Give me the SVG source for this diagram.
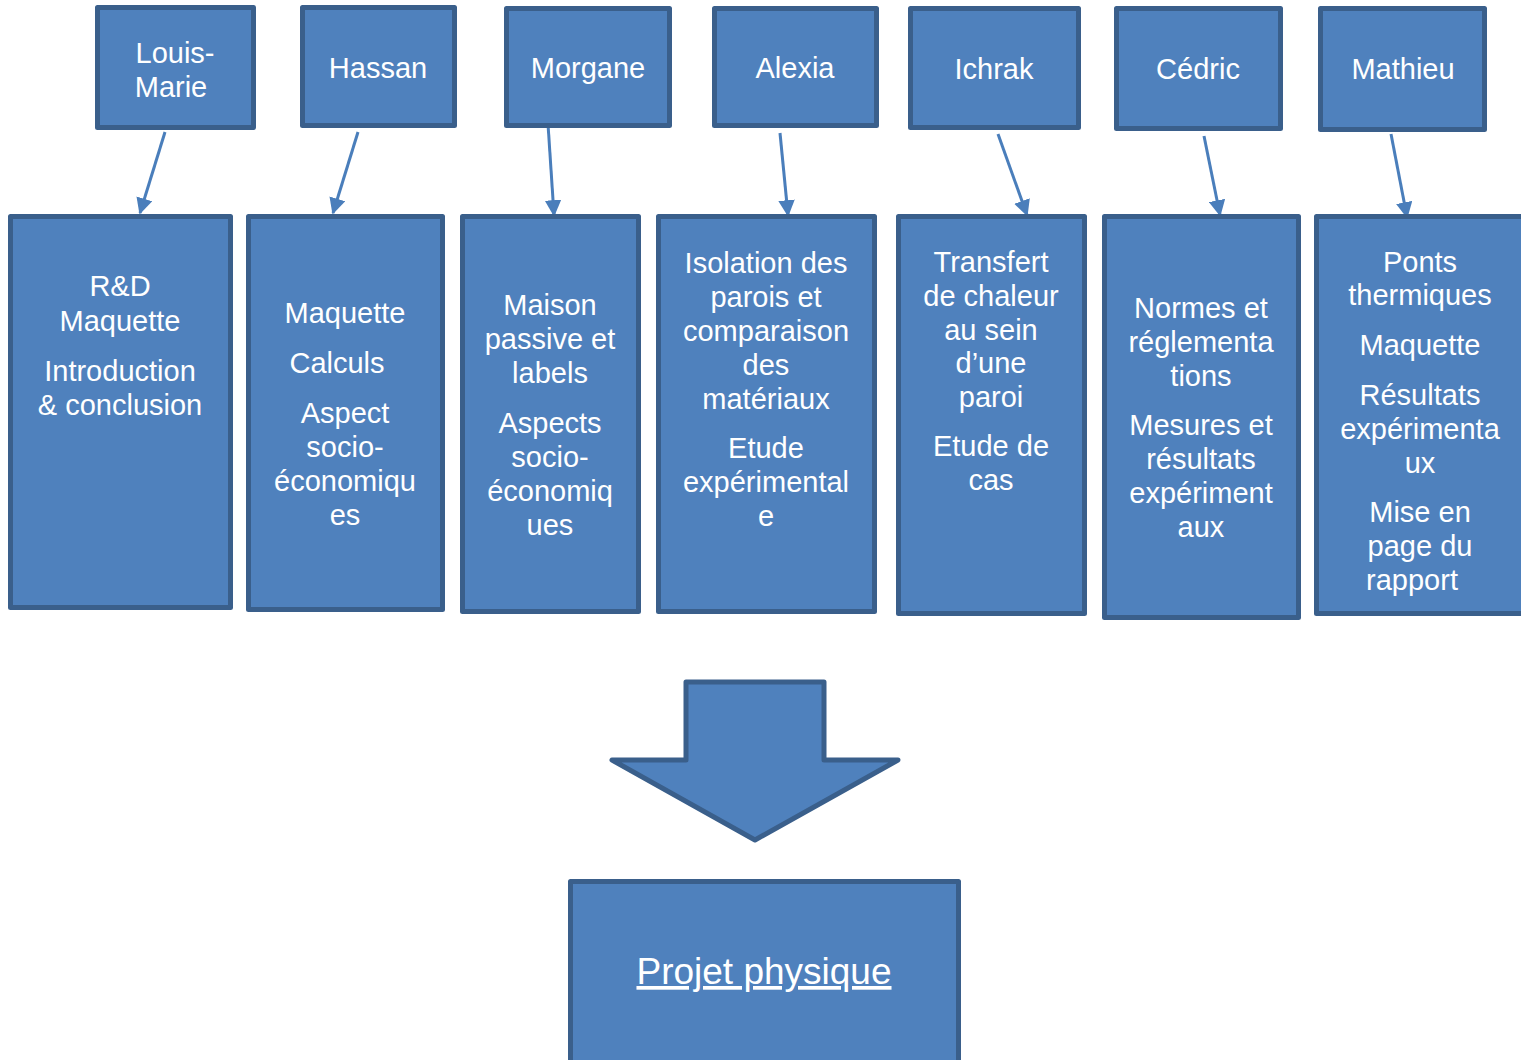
<svg xmlns="http://www.w3.org/2000/svg" width="1521" height="1060" viewBox="0 0 1521 1060">
<style>
.box{fill:#4f81bd;stroke:#3a5f8b;stroke-width:5;stroke-linejoin:round}
.t{font-family:"Liberation Sans",Arial,sans-serif;font-size:29px;fill:#ffffff;text-anchor:middle}
.con{stroke:#4a7ebb;stroke-width:3;fill:none;marker-end:url(#ah)}
</style>
<defs>
<marker id="ah" viewBox="0 0 10 10" refX="9" refY="5" markerWidth="5.5" markerHeight="5.5" markerUnits="strokeWidth" orient="auto">
<path d="M0,0 L10,5 L0,10 z" fill="#4a7ebb"/>
</marker>
</defs>
<rect width="1521" height="1060" fill="#ffffff"/>
<g id="connectors">
<line class="con" x1="165" y1="132" x2="140" y2="213"/>
<line class="con" x1="358" y1="132" x2="333" y2="213"/>
<line class="con" x1="548" y1="124" x2="554" y2="215"/>
<line class="con" x1="780" y1="133" x2="788" y2="215"/>
<line class="con" x1="998" y1="134" x2="1027" y2="215"/>
<line class="con" x1="1204" y1="136" x2="1220" y2="215"/>
<line class="con" x1="1391" y1="134" x2="1407" y2="217"/>
</g>
<g id="louis-marie"><rect class="box" x="97.5" y="7.5" width="156" height="120"/><text class="t" x="175" y="63">Louis-</text><text class="t" x="171" y="97">Marie</text></g>
<g id="hassan"><rect class="box" x="302.5" y="7.5" width="152" height="118"/><text class="t" x="378" y="78">Hassan</text></g>
<g id="morgane"><rect class="box" x="506.5" y="8.5" width="163" height="117"/><text class="t" x="588" y="78">Morgane</text></g>
<g id="alexia"><rect class="box" x="714.5" y="8.5" width="162" height="117"/><text class="t" x="795" y="78">Alexia</text></g>
<g id="ichrak"><rect class="box" x="910.5" y="8.5" width="168" height="119"/><text class="t" x="994" y="79">Ichrak</text></g>
<g id="cedric"><rect class="box" x="1116.5" y="8.5" width="164" height="120"/><text class="t" x="1198" y="79">Cédric</text></g>
<g id="mathieu"><rect class="box" x="1320.5" y="8.5" width="164" height="121"/><text class="t" x="1403" y="79">Mathieu</text></g>

<g id="task1"><rect class="box" x="10.5" y="216.5" width="220" height="391"/>
<text class="t" x="120" y="296">R&amp;D</text><text class="t" x="120" y="331">Maquette</text>
<text class="t" x="120" y="381">Introduction</text><text class="t" x="120" y="415">&amp; conclusion</text></g>
<g id="task2"><rect class="box" x="248.5" y="216.5" width="194" height="393"/>
<text class="t" x="345" y="323">Maquette</text><text class="t" x="337" y="373">Calculs</text>
<text class="t" x="345" y="423">Aspect</text><text class="t" x="345" y="457">socio-</text><text class="t" x="345" y="491">économiqu</text><text class="t" x="345" y="525">es</text></g>
<g id="task3"><rect class="box" x="462.5" y="216.5" width="176" height="395"/>
<text class="t" x="550" y="315">Maison</text><text class="t" x="550" y="349">passive et</text><text class="t" x="550" y="383">labels</text>
<text class="t" x="550" y="433">Aspects</text><text class="t" x="550" y="467">socio-</text><text class="t" x="550" y="501">économiq</text><text class="t" x="550" y="535">ues</text></g>
<g id="task4"><rect class="box" x="658.5" y="216.5" width="216" height="395"/>
<text class="t" x="766" y="273">Isolation des</text><text class="t" x="766" y="307">parois et</text><text class="t" x="766" y="341">comparaison</text><text class="t" x="766" y="375">des</text><text class="t" x="766" y="409">matériaux</text>
<text class="t" x="766" y="458">Etude</text><text class="t" x="766" y="492">expérimental</text><text class="t" x="766" y="526">e</text></g>
<g id="task5"><rect class="box" x="898.5" y="216.5" width="186" height="397"/>
<text class="t" x="991" y="272">Transfert</text><text class="t" x="991" y="306">de chaleur</text><text class="t" x="991" y="340">au sein</text><text class="t" x="991" y="373">d’une</text><text class="t" x="991" y="407">paroi</text>
<text class="t" x="991" y="456">Etude de</text><text class="t" x="991" y="490">cas</text></g>
<g id="task6"><rect class="box" x="1104.5" y="216.5" width="194" height="401"/>
<text class="t" x="1201" y="318">Normes et</text><text class="t" x="1201" y="352">réglementa</text><text class="t" x="1201" y="386">tions</text>
<text class="t" x="1201" y="435">Mesures et</text><text class="t" x="1201" y="469">résultats</text><text class="t" x="1201" y="503">expériment</text><text class="t" x="1201" y="537">aux</text></g>
<g id="task7"><rect class="box" x="1316.5" y="216.5" width="210" height="397"/>
<text class="t" x="1420" y="272">Ponts</text><text class="t" x="1420" y="305">thermiques</text>
<text class="t" x="1420" y="355">Maquette</text>
<text class="t" x="1420" y="405">Résultats</text><text class="t" x="1420" y="439">expérimenta</text><text class="t" x="1420" y="473">ux</text>
<text class="t" x="1420" y="522">Mise en</text><text class="t" x="1420" y="556">page du</text><text class="t" x="1412" y="590">rapport</text></g>

<g id="big-arrow"><path class="box" d="M686,682 L824,682 L824,760 L898,760 L755,840 L612,760 L686,760 Z" stroke-linejoin="miter"/></g>
<g id="projet"><rect class="box" x="570.5" y="881.5" width="388" height="190"/>
<text x="764" y="984" style="font-family:'Liberation Sans',Arial,sans-serif;font-size:37px;fill:#ffffff;text-anchor:middle;text-decoration:underline">Projet physique</text></g>
</svg>
